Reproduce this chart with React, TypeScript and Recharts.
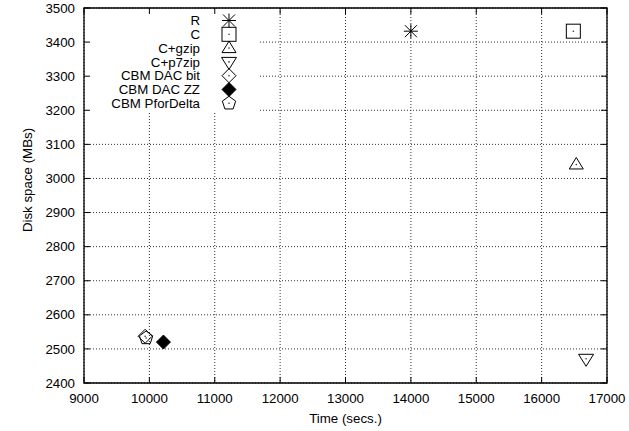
import { ScatterChart, Scatter, XAxis, YAxis, CartesianGrid, ReferenceArea } from 'recharts';

const W = 629;
const H = 431;
const PLOT = { left: 84, right: 607, top: 8, bottom: 383 };
const KEY = { right: 260, bottom: 113 }; // opaque key box in the top-left corner
const FONT = '"Liberation Sans", Arial, Helvetica, sans-serif';
const FS = 13.3;
const TICK_LEN = 6;

// data
const xTicks = [9000, 10000, 11000, 12000, 13000, 14000, 15000, 16000, 17000];
const yTicks = [2400, 2500, 2600, 2700, 2800, 2900, 3000, 3100, 3200, 3300, 3400, 3500];

const seriesNames = ['R', 'C', 'C+gzip', 'C+p7zip', 'CBM DAC bit', 'CBM DAC ZZ', 'CBM PforDelta'];
const seriesMarkers = ['star', 'box', 'triUp', 'triDown', 'diamond', 'diamondFill', 'pentagon'];
const timeSecs = [14000, 16485, 16530, 16680, 9935, 10215, 9950];
const diskMBs = [3432, 3432, 3041, 2471, 2537, 2520, 2532];

const Dot = ({ cx, cy }: { cx: number; cy: number }) => <circle cx={cx} cy={cy} r={0.8} fill="#333" />;

const marker = (kind: string, cx: number, cy: number) => {
  const s = { stroke: '#000', strokeWidth: 1, fill: 'none' };
  switch (kind) {
    case 'star':
      return (
        <g {...s}>
          <line x1={cx - 7} y1={cy} x2={cx + 7} y2={cy} />
          <line x1={cx} y1={cy - 7} x2={cx} y2={cy + 7} />
          <line x1={cx - 6} y1={cy - 6} x2={cx + 6} y2={cy + 6} />
          <line x1={cx - 6} y1={cy + 6} x2={cx + 6} y2={cy - 6} />
        </g>
      );
    case 'box':
      return (
        <g>
          <rect x={cx - 7} y={cy - 7} width={14} height={14} {...s} />
          <Dot cx={cx} cy={cy} />
        </g>
      );
    case 'triUp':
      return (
        <g>
          <polygon points={`${cx},${cy - 7} ${cx - 7},${cy + 4.5} ${cx + 7},${cy + 4.5}`} {...s} />
          <Dot cx={cx} cy={cy} />
        </g>
      );
    case 'triDown':
      return (
        <g>
          <polygon points={`${cx - 7.5},${cy - 4.5} ${cx + 7.5},${cy - 4.5} ${cx},${cy + 7.5}`} {...s} />
          <Dot cx={cx} cy={cy} />
        </g>
      );
    case 'diamond':
      return (
        <g>
          <polygon points={`${cx},${cy - 7} ${cx + 7},${cy} ${cx},${cy + 7} ${cx - 7},${cy}`} {...s} />
          <Dot cx={cx} cy={cy} />
        </g>
      );
    case 'diamondFill':
      return <polygon points={`${cx},${cy - 7} ${cx + 7},${cy} ${cx},${cy + 7} ${cx - 7},${cy}`} fill="#000" stroke="#000" />;
    case 'pentagon': {
      const pts = [0, 1, 2, 3, 4]
        .map((i) => {
          const a = -Math.PI / 2 + (i * 2 * Math.PI) / 5;
          return `${cx + 7 * Math.cos(a)},${cy + 7 * Math.sin(a)}`;
        })
        .join(' ');
      return (
        <g>
          <polygon points={pts} {...s} />
          <Dot cx={cx} cy={cy} />
        </g>
      );
    }
  }
  return <g />;
};

// grid lines stop at the key box, like gnuplot's opaque key
const HGrid = (p: any) => {
  const y = p.y1;
  const x1 = y > PLOT.top + 1 && y < KEY.bottom ? KEY.right : p.x1;
  return <line x1={x1} x2={p.x2} y1={y} y2={p.y2} stroke="#333" strokeDasharray="1 2" />;
};
const VGrid = (p: any) => {
  const x = p.x1;
  const y1 = x > PLOT.left + 1 && x < KEY.right ? KEY.bottom : p.y1;
  return <line x1={x} x2={p.x2} y1={y1} y2={p.y2} stroke="#333" strokeDasharray="1 2" />;
};

const XTick = (p: any) => {
  const { x, payload } = p;
  return (
    <g>
      <line x1={x} x2={x} y1={PLOT.bottom} y2={PLOT.bottom - TICK_LEN} stroke="#000" />
      <line x1={x} x2={x} y1={PLOT.top} y2={PLOT.top + TICK_LEN} stroke="#000" />
      <text x={x} y={PLOT.bottom + 15} dy="0.35em" textAnchor="middle" fontSize={FS} fontFamily={FONT} fill="#000">
        {payload.value}
      </text>
    </g>
  );
};

const YTick = (p: any) => {
  const { y, payload } = p;
  return (
    <g>
      <line x1={PLOT.left} x2={PLOT.left + TICK_LEN} y1={y} y2={y} stroke="#000" />
      <line x1={PLOT.right} x2={PLOT.right - TICK_LEN} y1={y} y2={y} stroke="#000" />
      <text x={PLOT.left - 9} y={y} dy="0.35em" textAnchor="end" fontSize={FS} fontFamily={FONT} fill="#000">
        {payload.value}
      </text>
    </g>
  );
};

const App = () => {
  return (
    <div style={{ position: 'absolute', left: 0, top: 0, width: W, height: H, background: '#fff' }}>
      <ScatterChart
        width={W}
        height={H}
        margin={{ top: PLOT.top, right: W - PLOT.right, left: 0, bottom: 0 }}
      >
        <CartesianGrid horizontal={HGrid} vertical={VGrid} horizontalValues={yTicks} verticalValues={xTicks} />
        <XAxis
          dataKey="x"
          type="number"
          domain={[9000, 17000]}
          ticks={xTicks}
          interval={0}
          height={H - PLOT.bottom}
          axisLine={false}
          tickLine={false}
          tick={<XTick />}
          label={{
            content: () => (
              <text x={(PLOT.left + PLOT.right) / 2} y={418} dy="0.35em" textAnchor="middle" fontSize={FS} fontFamily={FONT} fill="#000">
                Time (secs.)
              </text>
            ),
          }}
        />
        <YAxis
          dataKey="y"
          type="number"
          domain={[2400, 3500]}
          ticks={yTicks}
          interval={0}
          width={PLOT.left}
          axisLine={false}
          tickLine={false}
          tick={<YTick />}
          label={{
            content: () => (
              <text
                x={27}
                y={180}
                dy="0.35em"
                textAnchor="middle"
                fontSize={FS}
                fontFamily={FONT}
                fill="#000"
                transform="rotate(-90 27 180)"
              >
                Disk space (MBs)
              </text>
            ),
          }}
        />
        <ReferenceArea x1={9000} x2={17000} y1={2400} y2={3500} fill="none" stroke="#000" strokeWidth={1.3} />
        {seriesNames.map((name, i) => (
          <Scatter
            key={name}
            name={name}
            data={[{ x: timeSecs[i], y: diskMBs[i] }]}
            isAnimationActive={false}
            shape={(p: any) => marker(seriesMarkers[i], p.cx, p.cy)}
          />
        ))}
      </ScatterChart>
      <svg width={W} height={H} style={{ position: 'absolute', left: 0, top: 0, pointerEvents: 'none' }}>
        {seriesNames.map((name, i) => {
          const ry = 20.5 + i * 13.8;
          return (
            <g key={name}>
              <text x={200} y={ry} dy="0.35em" textAnchor="end" fontSize={FS} fontFamily={FONT} fill="#000">
                {name}
              </text>
              {marker(seriesMarkers[i], 229, ry)}
            </g>
          );
        })}
      </svg>
    </div>
  );
};

export default App;
